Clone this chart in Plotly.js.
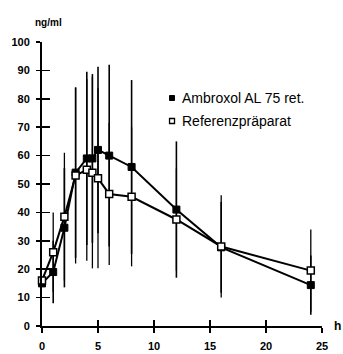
<!DOCTYPE html>
<html>
<head>
<meta charset="utf-8">
<script src="https://cdn.plot.ly/plotly-3.0.1.min.js"></script>
<style>
html,body{margin:0;padding:0;background:#fff;}
#chart{width:343px;height:354px;}
</style>
</head>
<body>
<div id="chart"></div>
<script>
var times = [0, 1, 2, 3, 4, 4.5, 5, 6, 8, 12, 16, 24];
var ambroxol = [15, 19, 34.6, 54, 59, 59, 62, 60, 56, 41, 27.7, 14.4];
var ambroxolErr = [0, 11, 21, 30, 30.5, 29.7, 29.3, 32, 30.6, 24, 16, 10.4];
var referenz = [16, 26, 38.5, 53, 55, 54, 52, 46.5, 45.5, 37.5, 28, 19.5];
var referenzErr = [0, 14, 22.5, 31, 32, 33.7, 31.7, 25, 24.5, 18, 18, 14.5];
var xTicks = [0, 5, 10, 15, 20, 25];
var yTicks = [0, 10, 20, 30, 40, 50, 60, 70, 80, 90, 100];
var seriesNames = ["Ambroxol AL 75 ret.", "Referenzpräparat"];

var traces = [
  {
    x: times, y: ambroxol, name: seriesNames[0], type: "scatter", mode: "lines+markers",
    line: {color: "#000", width: 2},
    marker: {symbol: "square", size: 7, color: "#000", line: {color: "#000", width: 1}},
    error_y: {type: "data", array: ambroxolErr, visible: true, color: "#000", thickness: 1.6, width: 0},
    cliponaxis: false, showlegend: false
  },
  {
    x: times, y: referenz, name: seriesNames[1], type: "scatter", mode: "lines+markers",
    line: {color: "#000", width: 2},
    marker: {symbol: "square", size: 7, color: "#fff", line: {color: "#000", width: 1.5}},
    error_y: {type: "data", array: referenzErr, visible: true, color: "#000", thickness: 1.3, width: 0},
    cliponaxis: false, showlegend: false
  },
  {x: [null], y: [null], xaxis: "x2", yaxis: "y2", showlegend: false, hoverinfo: "skip", mode: "markers"}
];

var tickFont = {family: "Liberation Sans, Arial, sans-serif", size: 11, color: "#000", weight: "bold"};

var layout = {
  width: 343, height: 354,
  margin: {l: 41.7, r: 20.7, t: 42, b: 28},
  paper_bgcolor: "#fff", plot_bgcolor: "#fff",
  showlegend: false,
  xaxis: {
    range: [0, 25], tickvals: xTicks, ticktext: xTicks.map(String),
    ticks: "outside", ticklen: 5, tickwidth: 1.5, tickcolor: "#000",
    showline: true, linecolor: "#000", linewidth: 2,
    showgrid: false, zeroline: false, tickfont: tickFont, ticklabelstandoff: 4
  },
  yaxis: {
    range: [0, 100], tickvals: yTicks, ticktext: yTicks.map(String),
    ticks: "outside", ticklen: 4, tickwidth: 1.5, tickcolor: "#000",
    showline: true, linecolor: "#000", linewidth: 2,
    showgrid: false, zeroline: false, tickfont: tickFont, ticklabelstandoff: 4
  },
  xaxis2: {
    overlaying: "x", range: [0, 25], tickvals: xTicks, showticklabels: false,
    ticks: "inside", ticklen: 6, tickwidth: 1.5, tickcolor: "#000",
    showline: false, showgrid: false, zeroline: false, side: "bottom"
  },
  yaxis2: {
    overlaying: "y", range: [0, 100], tickvals: yTicks, showticklabels: false,
    ticks: "inside", ticklen: 8, tickwidth: 1.5, tickcolor: "#000",
    showline: false, showgrid: false, zeroline: false, side: "left"
  },
  shapes: [
    {type: "rect", xref: "paper", yref: "paper", x0: 0.4555, x1: 0.4733, y0: 0.7940, y1: 0.8116,
     fillcolor: "#000", line: {color: "#000", width: 1}},
    {type: "rect", xref: "paper", yref: "paper", x0: 0.4555, x1: 0.4733, y0: 0.7130, y1: 0.7306,
     fillcolor: "#fff", line: {color: "#000", width: 1.3}}
  ],
  annotations: [
    {text: seriesNames[0], xref: "paper", yref: "paper", x: 0.4929, y: 0.8028, xanchor: "left", yanchor: "middle",
     showarrow: false, font: {family: "Liberation Sans, Arial, sans-serif", size: 14, color: "#000"}},
    {text: seriesNames[1], xref: "paper", yref: "paper", x: 0.4929, y: 0.7218, xanchor: "left", yanchor: "middle",
     showarrow: false, font: {family: "Liberation Sans, Arial, sans-serif", size: 14, color: "#000"}},
    {text: "ng/ml", xref: "paper", yref: "paper", x: 0.0225, y: 1.067, xanchor: "center", yanchor: "middle",
     showarrow: false, font: {family: "Liberation Sans, Arial, sans-serif", size: 10, color: "#000", weight: "bold"}},
    {text: "h", xref: "paper", yref: "paper", x: 1.056, y: 0, xanchor: "center", yanchor: "middle",
     showarrow: false, font: {family: "Liberation Sans, Arial, sans-serif", size: 12, color: "#000", weight: "bold"}}
  ]
};

Plotly.newPlot("chart", traces, layout, {displayModeBar: false, staticPlot: true});
</script>
</body>
</html>
